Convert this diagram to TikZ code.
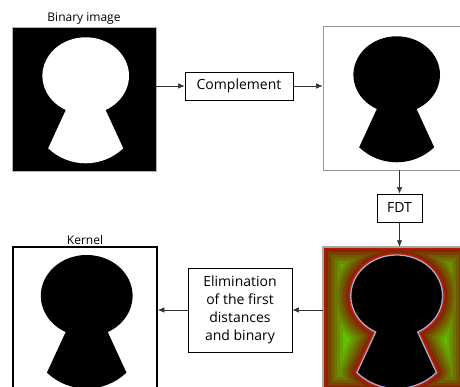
\documentclass[tikz,border=0pt]{standalone}
\usepackage{fontspec}
\setmainfont{Open Sans}
\usetikzlibrary{positioning,arrows.meta}

\definecolor{dtline}{RGB}{160,175,215}
\definecolor{dtc0}{RGB}{120,215,0}
\definecolor{dtc8}{RGB}{100,190,0}
\definecolor{dtc7}{RGB}{100,165,0}
\definecolor{dtc6}{RGB}{105,140,0}
\definecolor{dtc5}{RGB}{110,115,0}
\definecolor{dtc4}{RGB}{115,90,0}
\definecolor{dtc3}{RGB}{120,65,0}
\definecolor{dtc2}{RGB}{130,40,0}
\definecolor{dtc1}{RGB}{190,25,0}

\newcommand{\keyholepath}{(242.7:43.3 and 38.5) arc[start angle=242.7,end angle=-62.7,x radius=43.3,y radius=38.5] -- (37.5,-72.5) arc[start angle=-46.4,end angle=-133.6,radius=54.4] -- cycle}

\begin{document}
\begin{tikzpicture}[x=1pt,y=1pt]
  \tikzset{ img/.style={minimum width=144pt,minimum height=144pt,inner sep=0pt},
    box/.style={draw,line width=0.8pt,inner sep=0pt,minimum height=28pt,font=\fontsize{14}{18}\selectfont},
    title/.style={font=\fontsize{12}{14}\selectfont,inner sep=2pt},
    arr/.style={-{Latex[length=6.5pt,width=5.5pt]},line width=0.6pt,black!80},
    hole/.style={shift={(1.7,23.2)},scale=#1},
  }
  \useasboundingbox (0,0) rectangle (460,387);
  \clip (0,0) rectangle (460,387);

  % images and steps
  \node[img,fill=black,draw=gray!60,line width=0.5pt] (bin) at (84,288) {};
  \node[title,above] (bintitle) at (bin.north) {Binary image};
  \node[box,minimum width=108pt] (comp) at (239,301) {Complement};
  \node[img,draw=gray!80,line width=0.8pt] (compimg) at (395,289) {};
  \node[box,minimum width=45pt] (fdt) at (399.5,179) {FDT};
  \node[img] (dt) at (395,68) {};
  \node[box,align=center,minimum width=104pt,minimum height=84pt] (elim) at (240,77) {Elimination\\of the first\\distances\\and binary};
  \node[img,draw=black,line width=1.8pt] (kernel) at (85,68) {};
  \node[title,above,inner sep=1pt] (kerneltitle) at (kernel.north) {Kernel};

  % keyholes
  \fill[white,shift={(bin.center)},hole=1] \keyholepath;
  \fill[black,shift={(compimg.center)},hole=1] \keyholepath;
  \fill[black,shift={(kernel.center)},hole=1.06] \keyholepath;

  % distance transform
  \begin{scope}
    \clip (dt.south west) rectangle (dt.north east);
    \fill[dtc0] (dt.south west) rectangle (dt.north east);
    \foreach \w/\c in {46/dtc8,40/dtc7,34/dtc6,28/dtc5,22/dtc4,16/dtc3,10/dtc2,5/dtc1}{
      \draw[color=\c,line width=\w pt] (dt.south west) rectangle (dt.north east);
      \draw[color=\c,line width=\w pt,line join=round,shift={(dt.center)},hole=1.06] \keyholepath;
    }
    \fill[black,shift={(dt.center)},hole=1.06] \keyholepath;
    \draw[dtline,line width=1.3pt,shift={(dt.center)},hole=1.06] \keyholepath;
  \end{scope}
  \draw[gray!70,line width=2pt] (dt.south west) rectangle (dt.north east);

  % arrows
  \draw[arr] (comp.west -| bin.east) -- (comp.west);
  \draw[arr] (comp.east) -- (comp.east -| compimg.west);
  \draw[arr] (fdt.north |- compimg.south) -- (fdt.north);
  \draw[arr] (fdt.south) -- (fdt.south |- dt.north);
  \draw[arr] (elim.east -| dt.west) -- (elim.east);
  \draw[arr] (elim.west) -- (elim.west -| kernel.east);
\end{tikzpicture}
\end{document}
